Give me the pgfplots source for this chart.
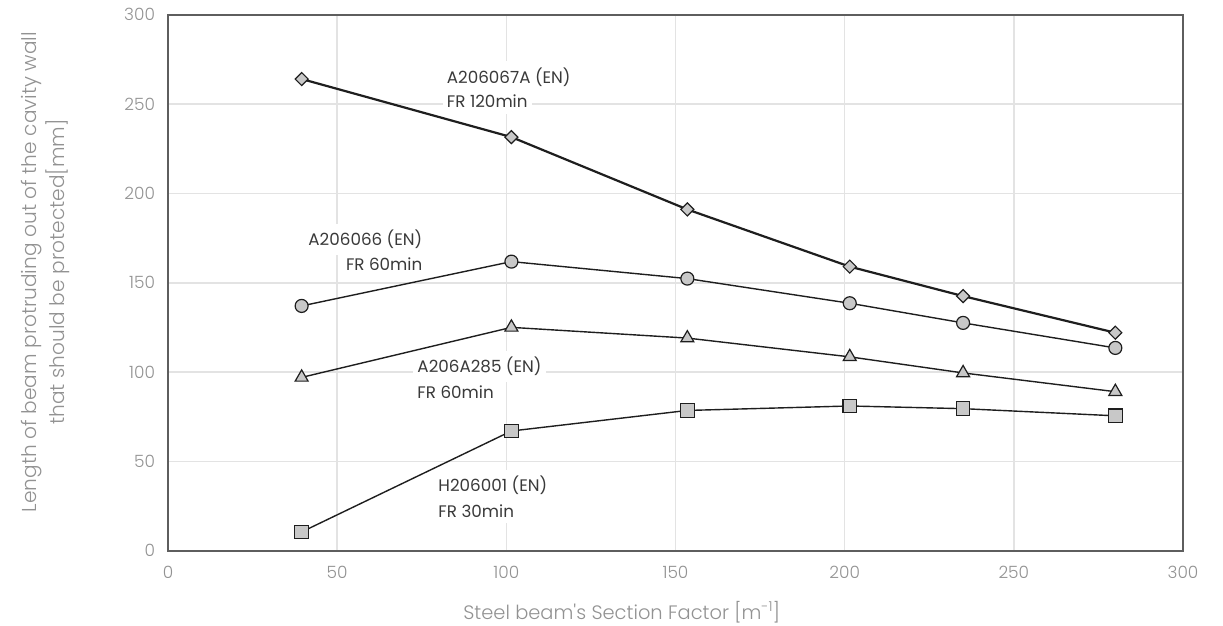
\documentclass[border=0pt]{standalone}
\usepackage{fontspec}
\setmainfont{Poppins}
\IfFontExistsTF{Poppins Light}{\newfontfamily\lightfont{Poppins Light}}{\newfontfamily\lightfont{Poppins}}
\usepackage{pgfplots}
\pgfplotsset{compat=1.18}
\definecolor{tickgray}{HTML}{929292}
\definecolor{gridgray}{HTML}{E3E3E3}
\definecolor{boxgray}{HTML}{5E5E5E}
\definecolor{markfill}{HTML}{C8C8C8}
\definecolor{linedark}{HTML}{1E1E1E}
\definecolor{labeldark}{HTML}{3A3A3A}
\tikzset{labelnode/.style={fill=white, text=labeldark, inner xsep=4bp, inner ysep=6bp, font=\fontsize{16.8}{20}\selectfont}}
\begin{document}
\begin{tikzpicture}
\begin{axis}[
  scale only axis, width=1015bp, height=536bp,
  xmin=0, xmax=300, ymin=0, ymax=300,
  xtick={0,50,...,300}, ytick={0,50,...,300},
  grid=major, major grid style={gridgray, line width=1.6bp},
  axis line style={boxgray, line width=1.8bp},
  major tick length=0pt,
  tick label style={tickgray, font=\lightfont\fontsize{17}{20}\selectfont},
  /pgf/number format/assume math mode=true,
  xticklabel style={yshift=-11.5bp},
  yticklabel style={xshift=-9.5bp},
  xlabel={Steel beam's Section Factor [m\textsuperscript{-1}]},
  xlabel style={at={(axis description cs:0.447,-0.114)}, anchor=center, tickgray, font=\lightfont\fontsize{19.5}{22}\selectfont},
  ylabel={Length of beam protruding out of the cavity wall\\that should be protected[mm]},
  ylabel style={at={(axis description cs:-0.1206,0.52)}, anchor=center, align=center, tickgray, font=\lightfont\fontsize{20.2}{28}\selectfont},
]
\node[labelnode, anchor=base west] at (axis cs:81.2,261.7) {A206067A (EN)};
\node[labelnode, anchor=base west] at (axis cs:81.2,247.9) {FR 120min};
\node[labelnode, anchor=base east] at (axis cs:76.4,170.6) {A206066 (EN)};
\node[labelnode, anchor=base east] at (axis cs:76.4,156.8) {FR 60min};
\node[labelnode, anchor=base west] at (axis cs:72.5,99.7) {A206A285 (EN)};
\node[labelnode, anchor=base west] at (axis cs:72.5,85.3) {FR 60min};
\node[labelnode, anchor=base west] at (axis cs:78.7,33.0) {H206001 (EN)};
\node[labelnode, anchor=base west] at (axis cs:78.7,18.7) {FR 30min};

\addplot[linedark, line width=2.2bp, mark=square*, mark size=4.6bp, mark options={rotate=45, fill=markfill, draw=linedark, line width=1.2bp}]
  coordinates {(39.5,264) (101.5,231.5) (153.5,191) (201.5,159) (235,142.5) (280,122)};
\addplot[linedark, line width=1.4bp, mark=*, mark size=6.5bp, mark options={fill=markfill, draw=linedark, line width=1.2bp}]
  coordinates {(39.5,137) (101.5,161.8) (153.5,152.3) (201.5,138.5) (235,127.5) (280,113.5)};
\addplot[linedark, line width=1.4bp, mark=triangle*, mark size=7.5bp, mark options={fill=markfill, draw=linedark, line width=1.2bp}]
  coordinates {(39.5,97) (101.5,125) (153.5,119) (201.5,108.5) (235,99.5) (280,89)};
\addplot[linedark, line width=1.4bp, mark=square*, mark size=6.8bp, mark options={fill=markfill, draw=linedark, line width=1.2bp}]
  coordinates {(39.5,10.5) (101.5,67) (153.5,78.5) (201.5,81) (235,79.5) (280,75.5)};

\coordinate (bl) at (rel axis cs:0,0);
\coordinate (tr) at (rel axis cs:1,1);
\end{axis}
\pgfresetboundingbox
\path[use as bounding box] ([shift={(-168bp,-74.3bp)}]bl) rectangle ([shift={(40bp,14.7bp)}]tr);
\end{tikzpicture}
\end{document}
